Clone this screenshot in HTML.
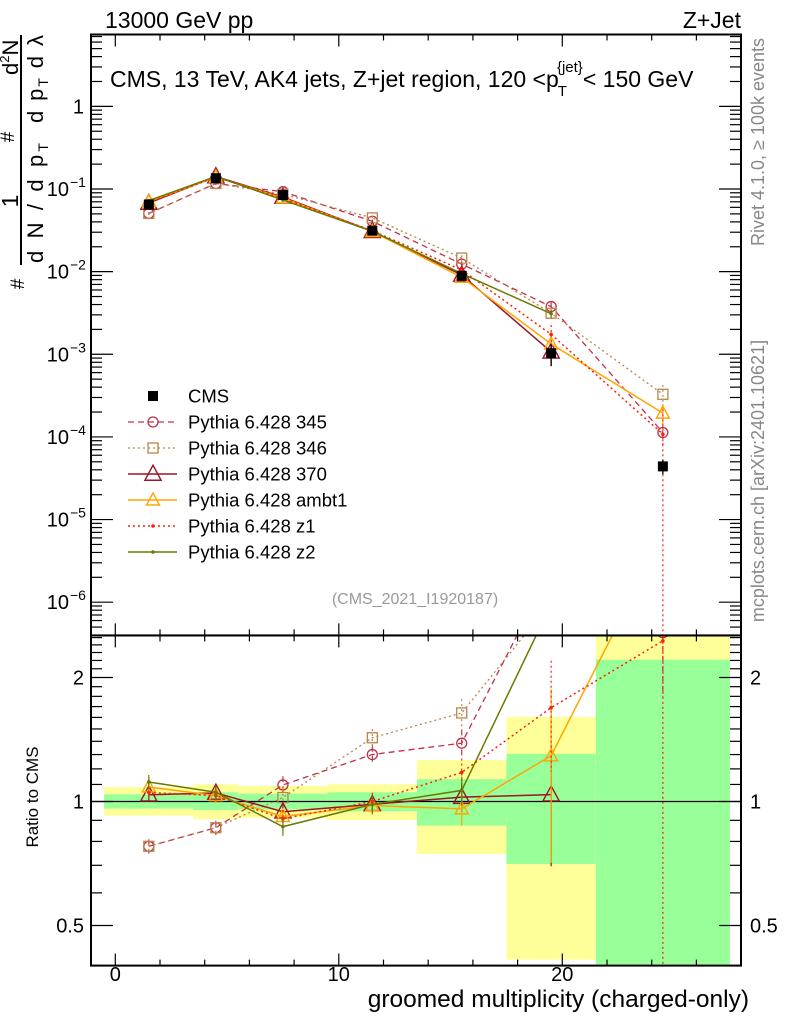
<!DOCTYPE html>
<html><head><meta charset="utf-8"><style>
html,body{margin:0;padding:0;background:#fff;width:786px;height:1024px;overflow:hidden;}
svg{display:block;font-family:"Liberation Sans",Arial,sans-serif;}
</style></head><body>
<svg id="chart" width="786" height="1024" viewBox="0 0 786 1024" xmlns="http://www.w3.org/2000/svg">
<defs>
<clipPath id="clipTop"><rect x="91" y="34.5" width="650" height="601"/></clipPath>
<clipPath id="clipRat"><rect x="91" y="635.4" width="650" height="330.2"/></clipPath>
</defs>
<g id="bands" clip-path="url(#clipRat)"></g>
<g id="ticks"></g>
<line x1="91" y1="801.5" x2="741" y2="801.5" stroke="#000" stroke-width="1.2"/>
<g id="series-top" clip-path="url(#clipTop)"></g>
<g id="series-rat" clip-path="url(#clipRat)"></g>
<rect x="91" y="34.5" width="650" height="601" fill="none" stroke="#000" stroke-width="2"/>
<rect x="91" y="635.4" width="650" height="330.2" fill="none" stroke="#000" stroke-width="2"/>
<g id="labels"></g>
<g id="legend"></g>

<text x="105" y="28" font-size="23">13000 GeV pp</text>
<text x="741" y="28" font-size="23" text-anchor="end">Z+Jet</text>
<text x="110" y="87" font-size="23">CMS, 13 TeV, AK4 jets, Z+jet region, 120 &lt;p<tspan font-size="15" dy="9" dx="-1">T</tspan><tspan font-size="15" dy="-24" dx="-10">{jet}</tspan><tspan dy="15">&lt; 150 GeV</tspan></text>
<text x="415" y="604" font-size="16" fill="#999" text-anchor="middle">(CMS_2021_I1920187)</text>
<text transform="translate(764,142) rotate(-90)" font-size="18" fill="#888" text-anchor="middle">Rivet 4.1.0, ≥ 100k events</text>
<text transform="translate(764,481) rotate(-90)" font-size="18" fill="#888" text-anchor="middle">mcplots.cern.ch [arXiv:2401.10621]</text>
<text x="749" y="1007" font-size="24.5" text-anchor="end">groomed multiplicity (charged-only)</text>
<text transform="translate(38,797) rotate(-90)" font-size="17" text-anchor="middle">Ratio to CMS</text>
<g>
<line x1="21" y1="35" x2="21" y2="265" stroke="#000" stroke-width="2"/>
<text transform="translate(18,75) rotate(-90)" font-size="22">d<tspan font-size="13" dy="-9">2</tspan><tspan dy="9">N</tspan></text>
<text transform="translate(18,201) rotate(-90)" text-anchor="middle" font-size="23">1</text>
<text transform="translate(14,137) rotate(-90)" text-anchor="middle" font-size="19">#</text>
<text transform="translate(24,284) rotate(-90)" text-anchor="middle" font-size="19">#</text>
<text transform="translate(43,123) rotate(-90)" font-size="22" textLength="88" lengthAdjust="spacing">d p<tspan font-size="14" dy="5">T</tspan><tspan dy="-5"> d λ</tspan></text>
<text transform="translate(43,263) rotate(-90)" font-size="22" textLength="120" lengthAdjust="spacing">d N / d p<tspan font-size="14" dy="5">T</tspan></text>
</g>

<script>
const xCenters = [1.5, 4.5, 7.5, 11.5, 15.5, 19.5, 24.5];
const binEdges = [-0.5, 3.5, 5.5, 9.5, 13.5, 17.5, 21.5, 27.5];
const cmsValues = [0.065, 0.135, 0.0846, 0.0313, 0.0089, 0.00103, 4.4e-5];
const cmsRelErr = [0.04, 0.05, 0.045, 0.05, 0.13, 0.30, 0.2];
const bandYellowUp = [1.084, 1.101, 1.091, 1.101, 1.26, 1.604, 3.0];
const bandYellowDn = [0.924, 0.905, 0.913, 0.901, 0.746, 0.413, 0.1];
const bandGreenUp = [1.041, 1.053, 1.045, 1.053, 1.133, 1.305, 2.21];
const bandGreenDn = [0.961, 0.953, 0.957, 0.947, 0.874, 0.705, 0.1];
const p345 = [0.0506, 0.1166, 0.0928, 0.0407, 0.01233, 0.00378, 1.13e-4];
const p346 = [0.0506, 0.1166, 0.0865, 0.0447, 0.0146, 0.00314, 3.28e-4];
const p370 = [0.0675, 0.1416, 0.0799, 0.0308, 0.00912, 0.00107, null];
const pAmbt1 = [0.0705, 0.1395, 0.0778, 0.0306, 0.00854, 0.00133, 1.94e-4];
const pZ1 = [0.0684, 0.1395, 0.0768, 0.0313, 0.01047, 0.00174, 1.08e-4];
const pZ2 = [0.0725, 0.1422, 0.0735, 0.0308, 0.00947, 0.0031, null];
const err345 = [0.04, 0.04, 0.05, 0.05, 0.08, 0.12, 0.3];
const err346 = [0.04, 0.04, 0.05, 0.05, 0.08, 0.12, 0.3];
const err370 = [0.04, 0.04, 0.05, 0.05, 0.08, 0.33, 0];
const errAmbt1 = [0.04, 0.04, 0.05, 0.05, 0.09, 0.45, 0.3];
const errZ1 = [0.04, 0.04, 0.05, 0.05, 0.08, 0.3, 1.0];
const errZ2 = [0.04, 0.04, 0.05, 0.05, 0.08, 0.12, 0];
const seriesNames = ["Pythia 6.428 345", "Pythia 6.428 346", "Pythia 6.428 370", "Pythia 6.428 ambt1", "Pythia 6.428 z1", "Pythia 6.428 z2"];
const xTickLabels = ["0", "10", "20"];
const ratioTickLabels = ["0.5", "1", "2"];

const NS = "http://www.w3.org/2000/svg";
const X = v => 115.3 + 22.35 * v;
const Y = v => 189 - 82.64 * (Math.log10(v) + 1);
const R = r => 801.5 - 124 * Math.log2(r);
function mk(tag, attrs, parent) { const e = document.createElementNS(NS, tag); for (const k in attrs) e.setAttribute(k, attrs[k]); parent.appendChild(e); return e; }

const styles = [
  {c:"#c0304a", dash:"6,4", m:"circle", w:1.3},
  {c:"#b8864b", dash:"2,3", m:"square", w:1.3},
  {c:"#9b1428", dash:"", m:"tri", w:1.5},
  {c:"#ffa500", dash:"", m:"tri", w:1.5},
  {c:"#ff2000", dash:"2,3", m:"dot", w:1.5},
  {c:"#6b7a00", dash:"", m:"dot", w:1.5}
];
const models = [p345, p346, p370, pAmbt1, pZ1, pZ2];
const errs = [err345, err346, err370, errAmbt1, errZ1, errZ2];

const bands = document.getElementById("bands");
for (let i = 0; i < xCenters.length; i++) {
  const x0 = X(binEdges[i]), x1 = X(binEdges[i + 1]);
  const y = mk("rect", {x:x0, y:R(bandYellowUp[i]), width:x1 - x0, height:R(bandYellowDn[i]) - R(bandYellowUp[i]), fill:"#ffff99"}, bands);
  
  
  const g = mk("rect", {x:x0, y:R(bandGreenUp[i]), width:x1 - x0, height:R(bandGreenDn[i]) - R(bandGreenUp[i]), fill:"#99ff99"}, bands);
  
  
}

const tk = document.getElementById("ticks");
function tl(x1, y1, x2, y2) { mk("line", {x1, y1, x2, y2, stroke:"#000", "stroke-width":1.2}, tk); }
for (let v = 0; v <= 28; v += 2) {
  const x = X(v), L = v % 10 === 0 ? 12 : 6;
  tl(x, 34.5, x, 34.5 + L); tl(x, 635.4, x, 635.4 - L);
  tl(x, 635.4, x, 635.4 + L); tl(x, 965.6, x, 965.6 - L);
}
for (let d = -7; d <= 0; d++) {
  for (let k = 1; k <= 9; k++) {
    const v = k * Math.pow(10, d), y = Y(v);
    if (y < 34.5 || y > 635.4) continue;
    const L = k === 1 ? 22 : 11;
    tl(91, y, 91 + L, y); tl(741, y, 741 - L, y);
  }
}
const rt = [];
for (let r = 0.4; r < 0.95; r += 0.1) rt.push(+r.toFixed(1));
for (let r = 1; r <= 2.55; r += 0.1) rt.push(+r.toFixed(1));
rt.forEach(r => { const y = R(r); if (y < 635.4 || y > 965.6) return;
  const L = (r === 1 || r === 2 || r === 0.5) ? 22 : 11; tl(91, y, 91 + L, y); tl(741, y, 741 - L, y); });

const lb = document.getElementById("labels");
xTickLabels.forEach(t => { const e = mk("text", {x:X(+t), y:981, "font-size":20, "text-anchor":"middle"}, lb); e.textContent = t;
    });
ratioTickLabels.forEach(t => { [84, 750].forEach((x, j) => { const e = mk("text", {x:x, y:R(+t) + 7, "font-size":20, "text-anchor": j ? "start" : "end"}, lb); e.textContent = t;
    }); });
for (let d = 0; d >= -6; d--) {
  const e = mk("text", {x: d === 0 ? 84 : 69, y:Y(Math.pow(10, d)) + 7, "font-size":20, "text-anchor":"end"}, lb);
   
  if (d === 0) e.textContent = "1";
  else { e.textContent = "10"; const s = mk("text", {x:70, y:Y(Math.pow(10, d)) - 2, "font-size":14}, lb); s.textContent = "−" + (-d);
      }
}

function marker(parent, st, x, y, big) {
  let e;
  if (st.m === "circle") e = mk("circle", {cx:x, cy:y, r:5, fill:"none", stroke:st.c, "stroke-width":1.3}, parent);
  else if (st.m === "square") e = mk("rect", {x:x - 5, y:y - 5, width:10, height:10, fill:"none", stroke:st.c, "stroke-width":1.3}, parent);
  else if (st.m === "tri") { const s = big ? 1.25 : 1; e = mk("path", {d:`M${x},${y - 7*s}L${x + 6.5*s},${y + 5*s}L${x - 6.5*s},${y + 5*s}Z`, fill:"none", stroke:st.c, "stroke-width":1.4}, parent); }
  else e = mk("circle", {cx:x, cy:y, r:1.8, fill:st.c}, parent);
  
  
}

const st = document.getElementById("series-top"), sr = document.getElementById("series-rat");
models.forEach((vals, si) => {
  const s = styles[si], er = errs[si];
  const ptsT = [], ptsR = [];
  vals.forEach((v, i) => { if (v == null) return; ptsT.push([X(xCenters[i]), Y(v)]); ptsR.push([X(xCenters[i]), R(v / cmsValues[i])]); });
  [[st, ptsT, false], [sr, ptsR, true]].forEach(([par, pts, isR]) => {
    const g = mk("g", {}, par);
    
    
    const pl = mk("polyline", {points:pts.map(p => p.join(",")).join(" "), fill:"none", stroke:s.c, "stroke-width":s.w, "stroke-dasharray":s.dash}, g);
    
    
    vals.forEach((v, i) => { if (v == null) return;
      const x = X(xCenters[i]); const e = er[i];
      const yc = isR ? R(v / cmsValues[i]) : Y(v);
      const yu = isR ? R(v * (1 + e) / cmsValues[i]) : Y(v * (1 + e));
      const yd = isR ? R(Math.max(v * (1 - e), 1e-9) / cmsValues[i]) : Y(Math.max(v * (1 - e), 1e-9));
      const eb = mk("line", {x1:x, y1:yu, x2:x, y2:yd, stroke:s.c, "stroke-width":1.2, "stroke-dasharray":s.dash}, g);
      
      
      marker(g, s, x, yc, si === 2);
    });
  });
});
const cg = mk("g", {}, st);


cmsValues.forEach((v, i) => {
  const x = X(xCenters[i]);
  const e = mk("line", {x1:x, y1:Y(v * (1 + cmsRelErr[i])), x2:x, y2:Y(Math.max(v * (1 - cmsRelErr[i]), 1e-9)), stroke:"#000", "stroke-width":1.3}, cg);
  
  
  const r = mk("rect", {x:x - 5, y:Y(v) - 5, width:10, height:10, fill:"#000"}, cg);
  
  
});

const lg = document.getElementById("legend");
const ly0 = 396, ldy = 26;
const c0 = mk("rect", {x:148, y:ly0 - 5, width:10, height:10, fill:"#000"}, lg);


const t0 = mk("text", {x:188, y:ly0 + 6.5, "font-size":18.5}, lg); t0.textContent = "CMS";


seriesNames.forEach((n, i) => {
  const y = ly0 + ldy * (i + 1), s = styles[i];
  const l = mk("line", {x1:128, y1:y, x2:177, y2:y, stroke:s.c, "stroke-width":s.w, "stroke-dasharray":s.dash}, lg);
  
  
  marker(lg, s, 153, y, i === 2);
  const t = mk("text", {x:188, y:y + 6.5, "font-size":18.5}, lg); t.textContent = n;
  
  
});
</script>
</svg>
</body></html>
